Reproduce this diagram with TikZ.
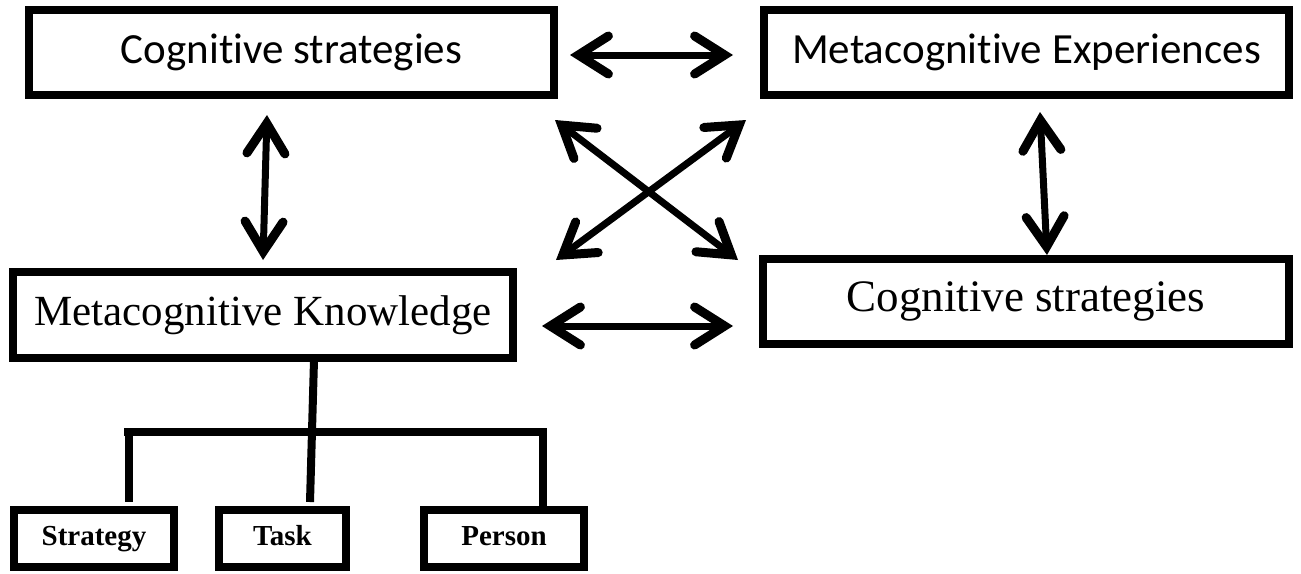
\documentclass[tikz,border=0pt]{standalone}
\usepackage{fontspec}
\setmainfont{Liberation Serif}
\newfontfamily\calib[Ligatures=NoCommon]{Carlito}
\usetikzlibrary{arrows.meta}
\begin{document}
\begin{tikzpicture}[x=1pt,y=-1pt,
  box/.style={draw, line width=8pt, rectangle, inner sep=0pt},
  sansbox/.style={box, font=\calib\fontsize{43}{50}\selectfont},
  serifbox/.style={box, font=\fontsize{43}{50}\selectfont},
  smallbox/.style={box, font=\bfseries\fontsize{29}{34}\selectfont, text height=20pt, text depth=7pt},
  barb/.tip={Straight Barb[length=30pt,width=38pt,line width=9pt,line cap=round]},
  dbl/.style={line width=7pt, barb-barb},
  tree/.style={line width=8pt, line join=miter}]
\useasboundingbox (0,0) rectangle (1301,573);
% boxes
\node[sansbox, minimum width=525pt, minimum height=85pt] (cs1) at (291.5,52.5) {Cognitive strategies};
\node[sansbox, minimum width=525pt, minimum height=85pt] (me) at (1026.5,52.5) {Metacognitive Experiences};
\node[serifbox, minimum width=500pt, minimum height=86pt] (mk) at (263,315) {Metacognitive Knowledge};
\node[serifbox, minimum width=526pt, minimum height=85pt, font=\fontsize{45}{52}\selectfont] (cs2) at (1026,301.5) {Cognitive strategies};
\node[smallbox, minimum width=160pt, minimum height=57pt] (st) at (94,538.5) {Strategy};
\node[smallbox, minimum width=127pt, minimum height=57pt] (tk) at (282.5,538.5) {Task};
\node[smallbox, minimum width=160pt, minimum height=57pt] (ps) at (504,538.5) {Person};
% arrow end points
\coordinate (a1) at (570,55);  \coordinate (a2) at (733,55);
\coordinate (b1) at (542,326); \coordinate (b2) at (733,326);
\coordinate (c1) at (555,120); \coordinate (c2) at (738,260);
\coordinate (d1) at (746,120); \coordinate (d2) at (556,260);
\coordinate (e1) at (267,115); \coordinate (e2) at (263,260);
\coordinate (f1) at (1040,112); \coordinate (f2) at (1047,255);
\draw[dbl] (a1) -- (a2);
\draw[dbl] (b1) -- (b2);
\draw[dbl] (c1) -- (c2);
\draw[dbl] (d1) -- (d2);
\draw[dbl] (e1) -- (e2);
\draw[dbl] (f1) -- (f2);
% tree
\coordinate (kt) at (314,360); \coordinate (kb) at (310,502);
\coordinate (bl) at (124,432); \coordinate (br) at (543,432);
\coordinate (sl) at (129,432); \coordinate (sb) at (129,502);
\draw[tree] (kt) -- (kb);
\draw[tree] (bl) -- (br) -- (ps.north -| br);
\draw[tree] (sl) -- (sb);
\end{tikzpicture}
\end{document}
